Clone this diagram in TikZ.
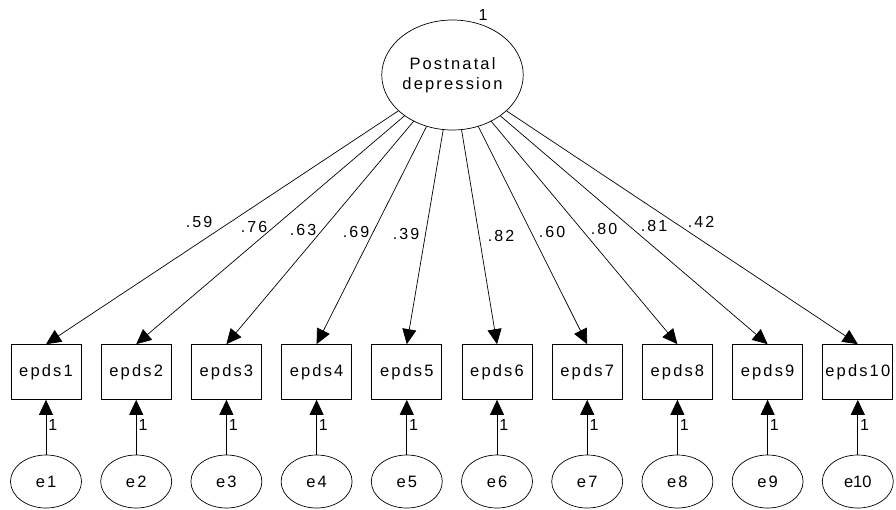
\documentclass[tikz,border=0pt]{standalone}
\usepackage{fontspec}
\setmainfont{Liberation Sans}
\newfontfamily\wide[LetterSpace=13]{Liberation Sans}
\usepackage{tikz}
\usetikzlibrary{arrows.meta,shapes.geometric}

\begin{document}
\begin{tikzpicture}[x=1pt,y=-1pt,>={Triangle[length=15pt,width=14pt]},line width=0.7pt,
  lat/.style={draw,ellipse,inner sep=0pt,minimum width=141pt,minimum height=110pt,align=center,font=\fontsize{16.5}{20}\wide},
  obs/.style={draw,rectangle,inner sep=0pt,minimum width=70pt,minimum height=55pt,font=\fontsize{16.5}{18}\wide},
  err/.style={draw,ellipse,inner sep=0pt,minimum width=71pt,minimum height=53pt,font=\fontsize{16.5}{18}\wide},
  lab/.style={font=\fontsize{16}{18}\wide,inner sep=0pt},
  one/.style={font=\fontsize{16}{18}\selectfont,inner sep=0pt}]
\useasboundingbox (0,0) rectangle (896,509);
\node[lat] (pnd) at (452.5,75) {Postnatal\\depression};
\node[one] at (483,15) {1};
%% indicators
\node[obs] (x1) at (46,372) {epds1};
\node[obs] (x2) at (136.2,372) {epds2};
\node[obs] (x3) at (226.4,372) {epds3};
\node[obs] (x4) at (316.6,372) {epds4};
\node[obs] (x5) at (406.8,372) {epds5};
\node[obs] (x6) at (497,372) {epds6};
\node[obs] (x7) at (587.2,372) {epds7};
\node[obs] (x8) at (677.4,372) {epds8};
\node[obs] (x9) at (767.6,372) {epds9};
\node[obs] (x10) at (857.8,372) {epds10};
%% errors
\node[err] (e1) at (46,481.5) {e1};
\node[err] (e2) at (136.2,481.5) {e2};
\node[err] (e3) at (226.4,481.5) {e3};
\node[err] (e4) at (316.6,481.5) {e4};
\node[err] (e5) at (406.8,481.5) {e5};
\node[err] (e6) at (497,481.5) {e6};
\node[err] (e7) at (587.2,481.5) {e7};
\node[err] (e8) at (677.4,481.5) {e8};
\node[err] (e9) at (767.6,481.5) {e9};
\node[err,font=\fontsize{16.5}{18}\selectfont] (e10) at (857.8,481.5) {e10};
%% loadings
\draw[->](pnd)--(x1.north);
\draw[->](pnd)--(x2.north);
\draw[->](pnd)--(x3.north);
\draw[->](pnd)--(x4.north);
\draw[->](pnd)--(x5.north);
\draw[->](pnd)--(x6.north);
\draw[->](pnd)--(x7.north);
\draw[->](pnd)--(x8.north);
\draw[->](pnd)--(x9.north);
\draw[->](pnd)--(x10.north);
\draw(199,222)node[lab]{.59}
(254,227)node[lab]{.76}
(303,230)node[lab]{.63}
(356,232)node[lab]{.69}
(406,234)node[lab]{.39}
(501,236)node[lab]{.82}
(552,232)node[lab]{.60}
(604,229)node[lab]{.80}
(654,226)node[lab]{.81}
(701,222)node[lab]{.42};
%% error paths
\draw[->](e1)--(x1) node[pos=0.55,right=2pt,one]{1};
\draw[->](e2)--(x2) node[pos=0.55,right=2pt,one]{1};
\draw[->](e3)--(x3) node[pos=0.55,right=2pt,one]{1};
\draw[->](e4)--(x4) node[pos=0.55,right=2pt,one]{1};
\draw[->](e5)--(x5) node[pos=0.55,right=2pt,one]{1};
\draw[->](e6)--(x6) node[pos=0.55,right=2pt,one]{1};
\draw[->](e7)--(x7) node[pos=0.55,right=2pt,one]{1};
\draw[->](e8)--(x8) node[pos=0.55,right=2pt,one]{1};
\draw[->](e9)--(x9) node[pos=0.55,right=2pt,one]{1};
\draw[->](e10)--(x10) node[pos=0.55,right=2pt,one]{1};
\end{tikzpicture}
\end{document}
